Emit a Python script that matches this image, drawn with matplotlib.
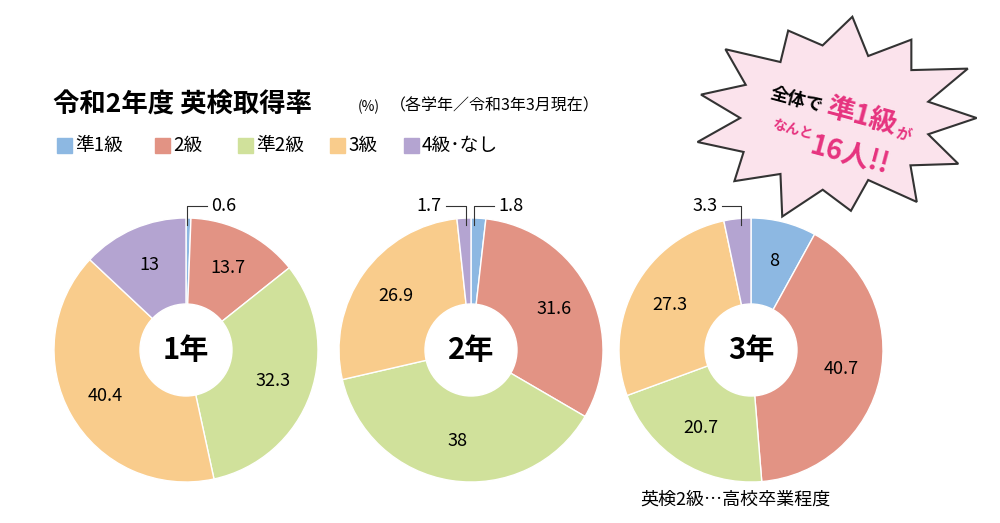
import numpy as np
import matplotlib
matplotlib.use("Agg")
import matplotlib.pyplot as plt
from matplotlib.patches import Circle, Polygon

plt.rcParams["font.family"] = ["Noto Sans CJK JP", "DejaVu Sans"]

categories = ["準1級", "2級", "準2級", "3級", "4級･なし"]
grade_labels = ["1年", "2年", "3年"]
values_1 = [0.6, 13.7, 32.3, 40.4, 13]
values_2 = [1.8, 31.6, 38, 26.9, 1.7]
values_3 = [8, 40.7, 20.7, 27.3, 3.3]
colors = ["#8db8e2", "#e29384", "#d0e19b", "#f9cc8c", "#b4a4d1"]

H = 523
fig = plt.figure(figsize=(10, 5.23), dpi=100)
ax = fig.add_axes([0, 0, 1, 1])
ax.set_xlim(0, 1000); ax.set_ylim(0, H); ax.set_aspect("equal"); ax.axis("off")

centers = [(186, 350), (471, 350), (751, 350)]
R = 132
for vals, (cx, cy), g in zip([values_1, values_2, values_3], centers, grade_labels):
    ax.pie(vals, colors=colors, startangle=90, counterclock=False, center=(cx, H - cy),
           radius=R, wedgeprops=dict(edgecolor="white", linewidth=1.0))
    ax.add_patch(Circle((cx, H - cy), 46, color="white", zorder=5))
    ax.text(cx, H - cy, g, ha="center", va="center", fontsize=21, fontweight="bold", zorder=6)
    cum = 0
    for v in vals:
        mid = 90 - (cum + v / 2) * 3.6
        cum += v
        if v < 5:
            continue
        a = np.radians(mid)
        ax.text(cx + 0.7 * R * np.cos(a), H - cy + 0.7 * R * np.sin(a), f"{v:g}",
                ha="center", va="center", fontsize=13, zorder=6)
ax.set_xlim(0, 1000); ax.set_ylim(0, H)

def leader(x0, y0, x1, y1, x2, txt, ha):
    ax.plot([x0, x1, x2], [H - y0, H - y1, H - y1], color="#333", lw=0.8, zorder=7)
    ax.text(x2 + (4 if ha == "left" else -4), H - y1, txt, ha=ha, va="center", fontsize=13)

leader(187, 225, 187, 206, 207, "0.6", "left")
leader(474, 225, 474, 206, 494, "1.8", "left")
leader(466, 225, 466, 206, 446, "1.7", "right")
leader(741, 225, 741, 206, 722, "3.3", "right")

ax.text(53, H - 105, "令和2年度 英検取得率", fontsize=19, fontweight="bold", va="center")
ax.text(358, H - 107, "(%)", fontsize=10, va="center", ha="left")
ax.text(390, H - 106, "（各学年／令和3年3月現在）", fontsize=11.5, va="center")
xs = [57, 155, 238, 330, 404]
for x, c, lab in zip(xs, colors, categories):
    ax.add_patch(plt.Rectangle((x, H - 153), 15, 15, color=c))
    ax.text(x + 18, H - 145, lab, fontsize=13.5, va="center")

ax.text(640, H - 500, "英検2級…高校卒業程度", fontsize=13, va="center")

# starburst
cx, cy = 835, 118
rng_r = [118, 80, 125, 85, 112, 78, 120, 86, 110, 80, 122, 84, 115, 79, 118, 86, 112, 80, 124, 85, 110, 78, 120, 84, 116, 80]
n = len(rng_r)
pts = []
for i in range(n):
    a = 2 * np.pi * i / n
    r = rng_r[i]
    pts.append((cx + r * np.cos(a) * 1.2, H - cy + r * np.sin(a) * 0.85))
ax.add_patch(Polygon(pts, closed=True, facecolor="#fbe3ec", edgecolor="#333", lw=1.5, zorder=8))
ax.text(797, H - 100, "全体で", fontsize=13, fontweight="bold", rotation=-15, ha="center", va="center", zorder=9)
ax.text(862, H - 117, "準1級", fontsize=20, fontweight="bold", color="#e6337f", rotation=-15, ha="center", va="center", zorder=9)
ax.text(903, H - 134, "が", fontsize=11, fontweight="bold", color="#e6337f", rotation=-15, ha="center", va="center", zorder=9)
ax.text(792, H - 130, "なんと", fontsize=10, fontweight="bold", color="#e6337f", rotation=-15, ha="center", va="center", zorder=9)
ax.text(850, H - 157, "16人!!", fontsize=20, fontweight="bold", color="#e6337f", rotation=-15, ha="center", va="center", zorder=9)

fig.savefig("out.png", dpi=100)
